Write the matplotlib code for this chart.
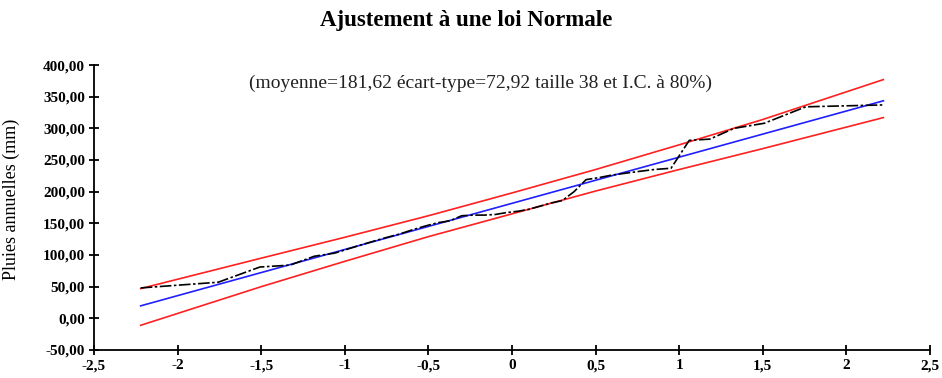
import numpy as np
import matplotlib
matplotlib.use("Agg")
import matplotlib.pyplot as plt
from matplotlib.ticker import FuncFormatter, MultipleLocator

# normal quantiles (Hazen positions, n = 38)
z = [-2.221, -1.757, -1.508, -1.328, -1.183, -1.060, -0.951, -0.851, -0.760, -0.674,
     -0.593, -0.516, -0.443, -0.371, -0.301, -0.233, -0.166, -0.099, -0.033,
     0.033, 0.099, 0.166, 0.233, 0.301, 0.371, 0.443, 0.516, 0.593, 0.674,
     0.760, 0.851, 0.951, 1.060, 1.183, 1.328, 1.508, 1.757, 2.221]

# sorted annual rainfall (mm)
pluies = [48, 57, 81, 84, 98, 103, 112, 120, 127, 133,
          140, 146, 151, 154, 162, 163, 163, 164, 167,
          169, 172, 177, 182, 186, 200, 219, 222, 226, 229,
          232, 235, 237, 281, 283, 300, 308, 334, 337]

# fitted normal line
z_fit = [-2.221, 2.221]
fit = [19.7, 343.5]

# 80% confidence band
z_ic = [-2.221, -1.5, -1.0, -0.5, 0.0, 0.5, 1.0, 1.5, 2.221]
ic_haut = [47, 95, 128, 162, 198, 235, 274, 314, 377]
ic_bas = [-11, 50, 90, 129, 165, 201, 235, 268, 317]

plt.rcParams['font.family'] = ['Liberation Serif', 'DejaVu Serif']

fig = plt.figure(figsize=(9.42, 3.78), dpi=100)
ax = fig.add_axes([0.0998, 0.0741, 0.8875, 0.7539])

ax.plot(z_ic, ic_haut, color='#ff2020', lw=1.2)
ax.plot(z_ic, ic_bas, color='#ff2020', lw=1.2)
ax.plot(z_fit, fit, color='#2020ff', lw=1.2)
ax.plot(z, pluies, color='black', lw=1.2, ls=(0, (7, 1.5, 1.5, 1.5)))

ax.set_xlim(-2.5, 2.5)
ax.set_ylim(-50, 400)
ax.xaxis.set_major_locator(MultipleLocator(0.5))
ax.yaxis.set_major_locator(MultipleLocator(50))
ax.xaxis.set_major_formatter(FuncFormatter(lambda v, p: ('%g' % v).replace('.', ',')))
ax.yaxis.set_major_formatter(FuncFormatter(lambda v, p: ('%.2f' % v).replace('.', ',')))

for s in ['top', 'right']:
    ax.spines[s].set_visible(False)
for s in ['left', 'bottom']:
    ax.spines[s].set_linewidth(1.3)
ax.tick_params(direction='inout', length=7, width=1.3, labelsize=11, pad=3)
for lab in ax.get_xticklabels() + ax.get_yticklabels():
    lab.set_fontweight('bold')

ax.set_ylabel('Pluies annuelles (mm)', fontsize=13, labelpad=6)
ax.yaxis.set_label_coords(-0.088, 0.53)
fig.text(0.495, 0.945, 'Ajustement à une loi Normale', ha='center', va='center',
         fontsize=16.5, fontweight='bold')
ax.text(0.462, 0.935, '(moyenne=181,62 écart-type=72,92 taille 38 et I.C. à 80%)',
        transform=ax.transAxes, ha='center', va='center', fontsize=14, color='#222222')

plt.savefig('out.png', dpi=100)
